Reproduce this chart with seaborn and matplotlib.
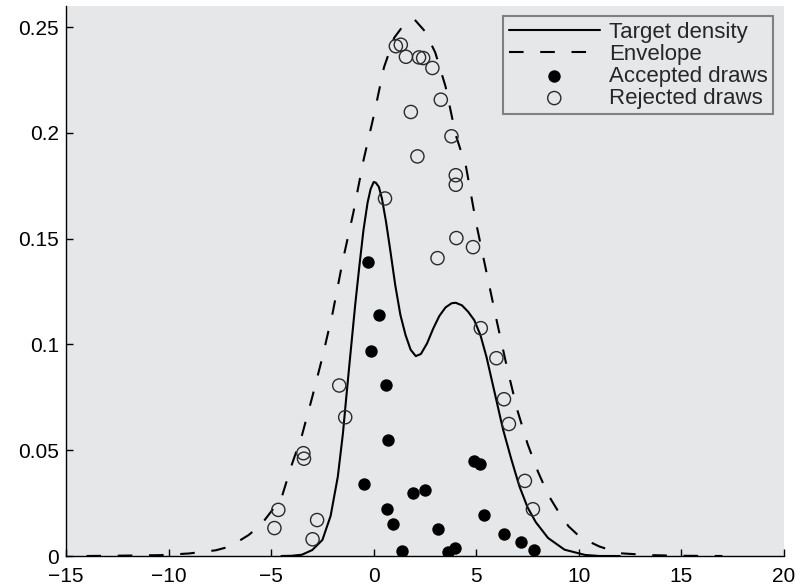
import seaborn as sns
import pandas as pd
import matplotlib.pyplot as plt
from matplotlib.ticker import FuncFormatter

# target density
target_x = [-4.5, -4.0, -3.5, -3.0, -2.5, -2.1, -1.75, -1.5, -1.35, -1.2, -1.05, -0.9,
            -0.7, -0.5, -0.3, -0.15, 0.0, 0.1, 0.25, 0.4, 0.6, 0.8, 1.05, 1.3, 1.55,
            1.8, 2.05, 2.3, 2.6, 2.9, 3.2, 3.5, 3.8, 4.0, 4.3, 4.6, 4.9, 5.2, 5.5, 5.9,
            6.3, 6.7, 7.1, 7.5, 7.9, 8.5, 9.3, 10.3, 11.0, 12.0]
target_y = [0.0, 0.0001, 0.0006, 0.0028, 0.0076, 0.019, 0.0375, 0.058, 0.0738, 0.089,
            0.104, 0.119, 0.137, 0.154, 0.167, 0.1735, 0.1768, 0.1765, 0.1745, 0.169,
            0.158, 0.145, 0.128, 0.114, 0.1045, 0.0975, 0.0945, 0.0955, 0.1005, 0.1075,
            0.1135, 0.1175, 0.1195, 0.1197, 0.1185, 0.1155, 0.1115, 0.1045, 0.094,
            0.077, 0.060, 0.046, 0.033, 0.023, 0.016, 0.0085, 0.003, 0.0005, 0.0, 0.0]

# envelope
env_x = [-14.0, -12.0, -10.4, -9.0, -7.7, -7.0, -6.1, -5.5, -5.0, -4.5, -4.0, -3.5,
         -3.0, -2.5, -2.0, -1.5, -1.0, -0.5, 0.0, 0.5, 1.0, 1.5, 2.0, 2.5, 3.0, 3.5,
         4.0, 4.5, 5.0, 5.5, 6.0, 6.5, 7.0, 7.5, 8.0, 8.5, 9.0, 9.5, 10.0, 10.5, 11.0,
         12.0, 13.5, 15.0, 17.0]
env_y = [0.0, 0.0002, 0.0004, 0.0012, 0.0027, 0.0045, 0.0099, 0.0147, 0.021, 0.0273,
         0.043, 0.057, 0.075, 0.094, 0.115, 0.140, 0.162, 0.187, 0.208, 0.231, 0.245,
         0.2515, 0.2535, 0.248, 0.238, 0.222, 0.199, 0.184, 0.157, 0.134, 0.111, 0.089,
         0.069, 0.053, 0.040, 0.029, 0.021, 0.014, 0.0095, 0.0068, 0.0045, 0.0013,
         0.0004, 0.0001, 0.0]

acc_x = [-0.30, 0.27, -0.12, 0.59, 0.72, -0.46, 1.90, 2.51, 0.64, 0.96, 1.40, 3.15,
         3.60, 3.98, 4.89, 5.18, 5.40, 6.33, 7.17, 7.81]
acc_y = [0.139, 0.114, 0.097, 0.081, 0.055, 0.034, 0.030, 0.031, 0.022, 0.015, 0.0024,
         0.0126, 0.002, 0.0038, 0.045, 0.0437, 0.0195, 0.0106, 0.0067, 0.0028]

rej_x = [-4.84, -4.65, -3.43, -3.40, -2.76, -2.98, -1.68, -1.39, 0.55, 1.08, 1.32, 1.57,
         2.21, 2.41, 2.86, 3.27, 1.81, 3.79, 2.13, 4.00, 4.00, 4.03, 4.84, 3.11, 5.22,
         5.98, 6.35, 6.59, 7.37, 7.76]
rej_y = [0.0132, 0.0218, 0.0486, 0.046, 0.017, 0.0079, 0.0806, 0.0656, 0.169, 0.241,
         0.2417, 0.236, 0.2357, 0.2354, 0.2307, 0.2157, 0.2099, 0.1984, 0.1889, 0.180,
         0.1755, 0.1503, 0.146, 0.1408, 0.1077, 0.0935, 0.0741, 0.0624, 0.0355, 0.0221]

sns.set_style("ticks", {"axes.facecolor": "#e6e7e9"})
plt.rcParams['font.family'] = ['Liberation Sans', 'DejaVu Sans']

fig = plt.figure(figsize=(7.97, 5.87), dpi=100)
ax = fig.add_axes([66 / 797, 31 / 587, 718 / 797, 550 / 587])

sns.lineplot(x=target_x, y=target_y, ax=ax, color='black', linewidth=1.5,
             sort=False, estimator=None, label='Target density')
sns.lineplot(x=env_x, y=env_y, ax=ax, color='black', linewidth=1.5,
             linestyle=(0, (7, 8)), sort=False, estimator=None, label='Envelope')
sns.scatterplot(x=acc_x, y=acc_y, ax=ax, color='black', s=80, linewidth=0,
                label='Accepted draws', zorder=3)
sns.scatterplot(x=rej_x, y=rej_y, ax=ax, marker='o', s=90, facecolors='none',
                edgecolors='#2a2a2a', linewidth=1.0, label='Rejected draws', zorder=3)

ax.set_xlim(-15, 20)
ax.set_ylim(0, 0.26)
ax.set_xticks(range(-15, 21, 5))
ax.set_yticks([0, 0.05, 0.1, 0.15, 0.2, 0.25])
ax.yaxis.set_major_formatter(FuncFormatter(lambda v, p: f"{v:g}"))
ax.tick_params(direction='in', length=5, width=1, labelsize=15, colors='black')
ax.tick_params(axis='x', pad=8)
ax.tick_params(axis='y', pad=5)
for side in ['top', 'right']:
    ax.spines[side].set_visible(False)
for side in ['left', 'bottom']:
    ax.spines[side].set_color('black')
    ax.spines[side].set_linewidth(1)

leg = ax.legend(loc='upper right', bbox_to_anchor=(0.9847, 0.9818), borderaxespad=0,
                fontsize=16, frameon=True, fancybox=False, framealpha=1,
                edgecolor='#808080', labelspacing=0.05, handlelength=4.1,
                handletextpad=0.4, borderpad=0.25)
leg.get_frame().set_linewidth(1.5)

plt.savefig('out.png', dpi=100)
